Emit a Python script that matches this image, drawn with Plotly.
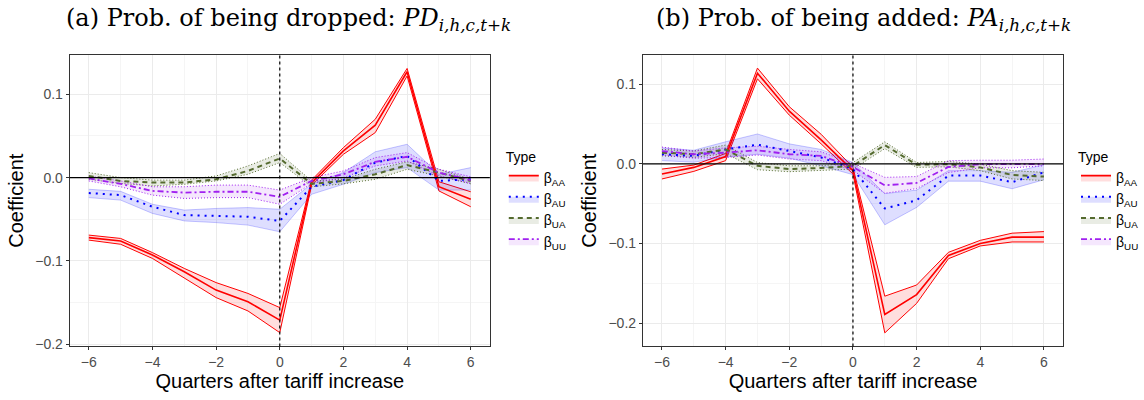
import plotly.graph_objects as go

quarters = [-6, -5, -4, -3, -2, -1, 0, 1, 2, 3, 4, 5, 6]

# Panel (a): probability of being dropped
a_AA = [-0.072, -0.076, -0.093, -0.113, -0.135, -0.149, -0.171, -0.006, 0.032, 0.063, 0.127, -0.011, -0.026]
a_AA_hi = [-0.069, -0.073, -0.090, -0.109, -0.126, -0.139, -0.156, -0.003, 0.036, 0.070, 0.131, -0.005, -0.017]
a_AA_lo = [-0.075, -0.080, -0.097, -0.120, -0.144, -0.160, -0.186, -0.009, 0.028, 0.054, 0.122, -0.016, -0.035]
a_AU = [-0.0185, -0.021, -0.035, -0.045, -0.046, -0.047, -0.052, -0.011, -0.003, 0.018, 0.026, -0.004, -0.002]
a_AU_hi = [-0.014, -0.0165, -0.032, -0.039, -0.037, -0.036, -0.038, -0.0075, 0.006, 0.031, 0.040, 0.004, 0.012]
a_AU_lo = [-0.024, -0.027, -0.043, -0.052, -0.054, -0.057, -0.065, -0.020, -0.008, 0.006, 0.012, -0.015, -0.015]
a_UA = [0.002, -0.004, -0.006, -0.006, -0.002, 0.008, 0.023, -0.0075, -0.004, 0.004, 0.015, 0.006, -0.004]
a_UA_hi = [0.006, 0.000, -0.003, -0.003, 0.002, 0.014, 0.029, -0.004, -0.002, 0.010, 0.019, 0.010, -0.002]
a_UA_lo = [-0.002, -0.007, -0.010, -0.008, -0.004, 0.004, 0.018, -0.011, -0.0075, -0.002, 0.010, 0.002, -0.0075]
a_UU = [-0.001, -0.0075, -0.016, -0.018, -0.017, -0.017, -0.023, -0.004, 0.004, 0.019, 0.025, 0.006, -0.003]
a_UU_hi = [0.002, -0.004, -0.011, -0.011, -0.009, -0.009, -0.015, 0.000, 0.008, 0.024, 0.030, 0.010, 0.001]
a_UU_lo = [-0.004, -0.011, -0.021, -0.025, -0.024, -0.024, -0.032, -0.007, 0.000, 0.014, 0.020, 0.002, -0.007]

# Panel (b): probability of being added
b_AA = [-0.0128, -0.0045, 0.009, 0.1136, 0.066, 0.030, -0.0086, -0.189, -0.164, -0.115, -0.100, -0.092, -0.092]
b_AA_hi = [-0.0066, -0.0016, 0.013, 0.120, 0.0716, 0.037, -0.0045, -0.166, -0.152, -0.111, -0.096, -0.087, -0.085]
b_AA_lo = [-0.019, -0.0095, 0.004, 0.1066, 0.061, 0.025, -0.0128, -0.212, -0.175, -0.119, -0.103, -0.098, -0.098]
b_AU = [0.012, 0.010, 0.018, 0.024, 0.016, 0.008, -0.0066, -0.056, -0.0457, -0.0148, -0.0148, -0.023, -0.0107]
b_AU_hi = [0.020, 0.017, 0.0276, 0.0374, 0.025, 0.018, 0.0016, -0.0374, -0.033, -0.0086, -0.0086, -0.0107, -0.0012]
b_AU_lo = [0.004, 0.002, 0.0086, 0.012, 0.007, -0.0025, -0.0136, -0.0765, -0.0547, -0.0218, -0.0218, -0.0313, -0.020]
b_UA = [0.014, 0.012, 0.018, -0.0025, -0.0066, -0.0053, -0.0025, 0.0235, -0.0012, -0.0004, -0.0045, -0.014, -0.016]
b_UA_hi = [0.018, 0.016, 0.0235, 0.0016, -0.0025, -0.0025, 0.0016, 0.0276, 0.0016, 0.0029, -0.0004, -0.0086, -0.0107]
b_UA_lo = [0.010, 0.008, 0.0128, -0.0074, -0.0099, -0.0086, -0.0066, 0.019, -0.0045, -0.0037, -0.0086, -0.019, -0.021]
b_UU = [0.016, 0.012, 0.014, 0.017, 0.012, 0.010, -0.004, -0.027, -0.024, -0.004, -0.0004, -0.0004, -0.0004]
b_UU_hi = [0.021, 0.016, 0.020, 0.022, 0.018, 0.015, 0.0004, -0.017, -0.016, 0.004, 0.0045, 0.0045, 0.006]
b_UU_lo = [0.011, 0.007, 0.008, 0.011, 0.006, 0.004, -0.008, -0.037, -0.031, -0.011, -0.005, -0.005, -0.0025]

types = ["AA", "AU", "UA", "UU"]
labels = ["β<sub>AA</sub>", "β<sub>AU</sub>", "β<sub>UA</sub>", "β<sub>UU</sub>"]
panel_titles = [
    "(a) Prob. of being dropped: <i>PD</i><sub><i>i,h,c,t+k</i></sub>",
    "(b) Prob. of being added: <i>PA</i><sub><i>i,h,c,t+k</i></sub>",
]
x_tick_vals = [-6, -4, -2, 0, 2, 4, 6]
x_tick_text = ["−6", "−4", "−2", "0", "2", "4", "6"]
y_tick_vals = [-0.2, -0.1, 0.0, 0.1]
y_tick_text = ["−0.2", "−0.1", "0.0", "0.1"]

styles = {
    "AA": dict(color="#FF0000", fill="rgba(255,0,0,0.13)", dash="solid", width=1.6,
               bcolor="#FF0000", bdash="solid", bwidth=1.0),
    "AU": dict(color="#0000FF", fill="rgba(0,0,255,0.13)", dash="2px,5px", width=2.0,
               bcolor="rgba(0,0,255,0.22)", bdash="solid", bwidth=1.0),
    "UA": dict(color="#556B2F", fill="rgba(85,107,47,0.13)", dash="5px,4px", width=2.0,
               bcolor="#556B2F", bdash="1px,2px", bwidth=1.0),
    "UU": dict(color="#A020F0", fill="rgba(160,32,240,0.11)", dash="6px,3px,2px,3px", width=1.8,
               bcolor="#A020F0", bdash="1px,2px", bwidth=1.0),
}

panels = [
    {"AA": (a_AA, a_AA_lo, a_AA_hi), "AU": (a_AU, a_AU_lo, a_AU_hi),
     "UA": (a_UA, a_UA_lo, a_UA_hi), "UU": (a_UU, a_UU_lo, a_UU_hi)},
    {"AA": (b_AA, b_AA_lo, b_AA_hi), "AU": (b_AU, b_AU_lo, b_AU_hi),
     "UA": (b_UA, b_UA_lo, b_UA_hi), "UU": (b_UU, b_UU_lo, b_UU_hi)},
]

W, H = 1144, 400
xdoms = [[70 / W, 492 / W], [645.7 / W, 1067.7 / W]]
ydom = [1 - 351.7 / H, 1 - 55.7 / H]
yranges = [[-0.2026, 0.1473], [-0.229, 0.1366]]

fig = go.Figure()

for p, data in enumerate(panels):
    xa = "x" if p == 0 else "x2"
    ya = "y" if p == 0 else "y2"
    lg = "legend" if p == 0 else "legend2"
    for t, lab in zip(types, labels):
        s = styles[t]
        mid, lo, hi = data[t]
        fig.add_trace(go.Scatter(x=quarters, y=lo, xaxis=xa, yaxis=ya, mode="lines",
                                 line=dict(color=s["bcolor"], dash=s["bdash"], width=s["bwidth"]),
                                 showlegend=False, hoverinfo="skip"))
        fig.add_trace(go.Scatter(x=quarters, y=hi, xaxis=xa, yaxis=ya, mode="lines",
                                 fill="tonexty", fillcolor=s["fill"],
                                 line=dict(color=s["bcolor"], dash=s["bdash"], width=s["bwidth"]),
                                 showlegend=False, hoverinfo="skip"))
    for t, lab in zip(types, labels):
        s = styles[t]
        mid, lo, hi = data[t]
        fig.add_trace(go.Scatter(x=quarters, y=mid, xaxis=xa, yaxis=ya, mode="lines",
                                 line=dict(color=s["color"], dash=s["dash"], width=s["width"]),
                                 showlegend=False, name=lab))
    # legend-only entries
    for t, lab in zip(types, labels):
        s = styles[t]
        fig.add_trace(go.Scatter(x=[None], y=[None], xaxis=xa, yaxis=ya, mode="lines",
                                 fill="toself", fillcolor=s["fill"],
                                 line=dict(color=s["color"], dash=s["dash"], width=s["width"]),
                                 name=lab, legend=lg, showlegend=True))

axis_common = dict(
    showline=True, mirror=True, linecolor="#333333", linewidth=1,
    ticks="outside", ticklen=3, tickcolor="#333333",
    tickfont=dict(family="Liberation Sans, Arial, sans-serif", size=14, color="#4D4D4D"),
    showgrid=True, gridcolor="#EBEBEB", gridwidth=1, zeroline=False,
    title_font=dict(family="Liberation Sans, Arial, sans-serif", size=20, color="black"),
)

for p in range(2):
    sfx = "" if p == 0 else "2"
    fig.update_layout(**{
        f"xaxis{sfx}": dict(axis_common, domain=xdoms[p], range=[-6.6, 6.6],
                            tickvals=x_tick_vals, ticktext=x_tick_text,
                            minor=dict(dtick=1, tick0=-6, showgrid=True, gridcolor="#F5F5F5", ticks=""),
                            title_text="Quarters after tariff increase", title_standoff=4,
                            anchor="y" + sfx),
        f"yaxis{sfx}": dict(axis_common, domain=ydom, range=yranges[p],
                            tickvals=y_tick_vals, ticktext=y_tick_text,
                            minor=dict(dtick=0.05, tick0=0, showgrid=True, gridcolor="#F5F5F5", ticks=""),
                            title_text="Coefficient", title_standoff=6,
                            anchor="x" + sfx),
    })
    xref = "x" + sfx
    yref = "y" + sfx
    fig.add_shape(type="line", xref=xref + " domain", yref=yref, x0=0, x1=1, y0=0, y1=0,
                  line=dict(color="black", width=1.2), layer="above")
    fig.add_shape(type="line", xref=xref, yref=yref + " domain", x0=0, x1=0, y0=0, y1=1,
                  line=dict(color="black", width=1.2, dash="3px,3px"), layer="above")

title_x = [290 / W, 867 / W]
for p in range(2):
    fig.add_annotation(text=panel_titles[p], xref="paper", yref="paper",
                       x=title_x[p], y=1 - 20 / H, xanchor="center", yanchor="middle",
                       showarrow=False,
                       font=dict(family="DejaVu Serif, Liberation Serif, serif", size=24, color="black"))

leg_common = dict(
    title=dict(text="Type", font=dict(family="Liberation Sans, Arial, sans-serif", size=14, color="black")),
    font=dict(family="Liberation Sans, Arial, sans-serif", size=14, color="black"),
    bgcolor="rgba(0,0,0,0)", itemwidth=30, tracegroupgap=0, traceorder="normal",
    yanchor="top", xanchor="left",
)
fig.update_layout(
    width=W, height=H, margin=dict(l=0, r=0, t=0, b=0),
    paper_bgcolor="white", plot_bgcolor="white",
    legend=dict(leg_common, x=506 / W, y=1 - 146 / H),
    legend2=dict(leg_common, x=1081 / W, y=1 - 146 / H),
)

fig.write_html("out.html")
